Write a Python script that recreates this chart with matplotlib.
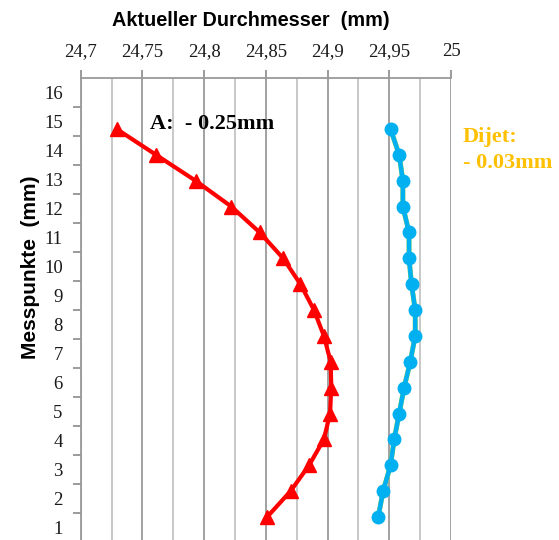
import matplotlib
matplotlib.use("Agg")
import matplotlib.pyplot as plt
import numpy as np

# measuring points (bottom = 1, top = 16)
points = np.arange(1, 17)
# diameter, first series (A)
diam_a = [24.851, 24.870, 24.885, 24.897, 24.902, 24.903, 24.9025, 24.897,
          24.889, 24.878, 24.864, 24.845, 24.822, 24.793, 24.761, 24.729]
# diameter, second series (Dijet)
diam_dijet = [24.941, 24.945, 24.951, 24.954, 24.958, 24.962, 24.967, 24.971,
              24.971, 24.968, 24.966, 24.966, 24.961, 24.961, 24.958, 24.951]

x_ticks = [24.7, 24.75, 24.8, 24.85, 24.9, 24.95, 25.0]
x_tick_labels = ["24,7", "24,75", "24,8", "24,85", "24,9", "24,95", "25"]
y_labels = [str(i) for i in range(1, 17)]

serif = "Liberation Serif"
narrow = ["Liberation Sans Narrow", "Liberation Sans", "DejaVu Sans"]

fig = plt.figure(figsize=(5.59, 5.4), dpi=100)
ax = fig.add_axes([0.1444, -0.0037, 0.6624, 0.8593])

# data axis: point 1 sits a bit above bottom, point 16 below top
y0, y1 = 0.034, 17.97
ax.set_xlim(24.7, 25.0)
ax.set_ylim(y0, y1)

# vertical grid every 0.025
for v in np.arange(24.7, 25.0001, 0.025):
    major = abs((v - 24.7) / 0.05 - round((v - 24.7) / 0.05)) < 1e-6
    ax.axvline(v, color="#9a9a9a" if major else "#c4c4c4", lw=1.3, zorder=0)

ax.plot(diam_dijet, points, color="#92D050", lw=3.6, zorder=2)
ax.plot(diam_dijet, points, color="#00B0F0", lw=3.2, marker="o", ms=9,
        mec="#00B0F0", zorder=3)
ax.plot(diam_a, points, color="#FF0000", lw=3.0, marker="^", ms=10,
        mec="#FF0000", zorder=4)

ax.xaxis.tick_top()
ax.set_xticks(x_ticks)
ax.set_xticklabels(x_tick_labels, fontfamily=serif, fontsize=13.5, color="#1a1a1a")
ax.tick_params(axis="x", direction="out", length=6, width=1.2, color="#8a8a8a", pad=7)
ax.set_yticks([])

for s in ["right", "bottom", "left"]:
    ax.spines[s].set_visible(False)
ax.spines["top"].set_color("#9a9a9a")
ax.spines["top"].set_linewidth(1.3)

# label axis: 16 bins, labels centered in each bin
def to_u(y):
    return (y - y0) / (y1 - y0) * 16

def from_u(u):
    return u / 16 * (y1 - y0) + y0

sec = ax.secondary_yaxis("left", functions=(to_u, from_u))
sec.set_yticks(range(1, 16))
sec.set_yticklabels([])
sec.set_yticks(np.arange(0.5, 16, 1), minor=True)
sec.set_yticklabels(y_labels, minor=True, fontfamily=serif, fontsize=13.5, color="#1a1a1a")
sec.tick_params(axis="y", which="major", direction="out", length=6, width=1.2, color="#8a8a8a")
sec.tick_params(axis="y", which="minor", length=0, pad=13)
sec.spines["left"].set_color("#9a9a9a")
sec.spines["left"].set_linewidth(1.3)

ax.text(24.756, 16.2, "A:  - 0.25mm", fontfamily=serif, fontweight="bold",
        fontsize=16, color="black", va="center")
ax.text(25.0095, 15.17, "Dijet:\n- 0.03mm", fontfamily=serif, fontweight="bold",
        fontsize=16, color="#FFC000", va="center", linespacing=1.4, clip_on=False)

fig.text(251 / 559, 1 - 20 / 540, "Aktueller Durchmesser  (mm)", family=narrow,
         fontweight="bold", fontsize=14.3, ha="center", va="center")
fig.text(31 / 559, 0.505, "Messpunkte  (mm)", family=narrow, fontweight="bold",
         fontsize=15, rotation=90, ha="center", va="center")

fig.savefig("out.png", dpi=100)
